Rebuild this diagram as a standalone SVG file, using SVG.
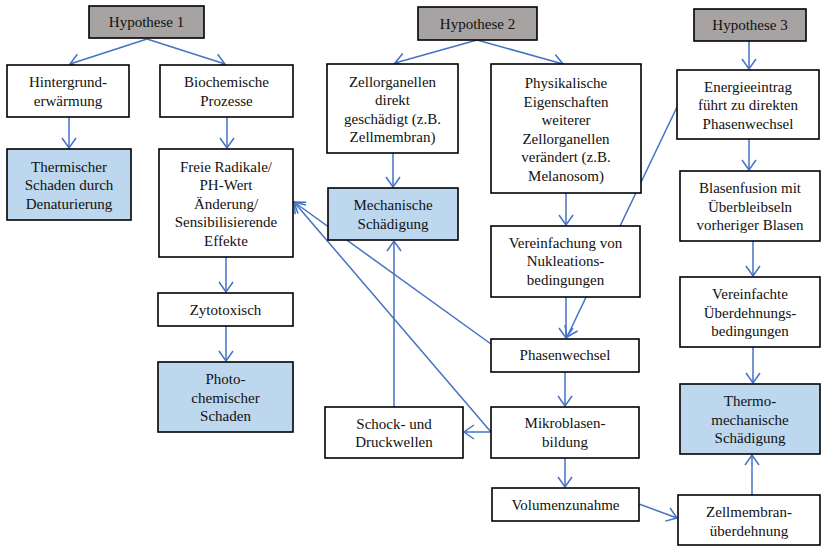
<svg xmlns="http://www.w3.org/2000/svg" width="821" height="546" viewBox="0 0 821 546">
<defs>
<marker id="ah" markerWidth="14" markerHeight="18" refX="12" refY="9" orient="auto" markerUnits="userSpaceOnUse" viewBox="0 0 14 18">
<path d="M2,2 L12,9 L2,16" fill="none" stroke="#4472c4" stroke-width="1.5"/>
</marker>
</defs>
<g id="connectors" stroke="#4472c4" stroke-width="1.5" fill="none" marker-end="url(#ah)">
<line x1="147" y1="39" x2="70" y2="64"/>
<line x1="147" y1="39" x2="225" y2="64"/>
<line x1="69" y1="117" x2="69" y2="148"/>
<line x1="227" y1="117" x2="227" y2="148"/>
<line x1="226" y1="257" x2="226" y2="292"/>
<line x1="226" y1="326" x2="226" y2="361"/>
<line x1="477" y1="40" x2="395" y2="63"/>
<line x1="477" y1="40" x2="563" y2="64"/>
<line x1="393" y1="153" x2="393" y2="187"/>
<line x1="566" y1="193" x2="566" y2="225"/>
<line x1="566" y1="297" x2="566" y2="338"/>
<line x1="677" y1="107" x2="567" y2="337"/>
<line x1="565" y1="372" x2="565" y2="406"/>
<line x1="565" y1="458" x2="565" y2="487"/>
<line x1="639" y1="504" x2="677" y2="518"/>
<line x1="752" y1="495" x2="752" y2="455"/>
<line x1="491" y1="432" x2="464" y2="432"/>
<line x1="394" y1="407" x2="394" y2="241"/>
<line x1="491" y1="432" x2="294" y2="202"/>
<line x1="491" y1="344" x2="294" y2="202"/>
<line x1="749" y1="41" x2="749" y2="69"/>
<line x1="749" y1="139" x2="749" y2="170"/>
<line x1="753" y1="241" x2="753" y2="276"/>
<line x1="753" y1="347" x2="753" y2="383"/>
</g>
<g font-size="15" fill="#111" text-anchor="middle">
<g id="hyp1"><rect fill="#a7a3a3" stroke="#000" stroke-width="1.6" x="89" y="6" width="115" height="32"/><text font-family="Liberation Serif" x="146.5" y="27">Hypothese 1</text></g>
<g id="hyp2"><rect fill="#a7a3a3" stroke="#000" stroke-width="1.6" x="418" y="7" width="119" height="33"/><text font-family="Liberation Serif" x="477.5" y="28.5">Hypothese 2</text></g>
<g id="hyp3"><rect fill="#a7a3a3" stroke="#000" stroke-width="1.6" x="694" y="9" width="112" height="32"/><text font-family="Liberation Serif" x="750" y="30">Hypothese 3</text></g>
<g id="hintergrund"><rect fill="#fff" stroke="#000" stroke-width="1.6" x="7" y="65" width="122" height="52"/><text font-family="Liberation Serif" x="68" y="87">Hintergrund-</text><text font-family="Liberation Serif" x="68" y="105.5">erwärmung</text></g>
<g id="biochem"><rect fill="#fff" stroke="#000" stroke-width="1.6" x="160" y="65" width="133" height="52"/><text font-family="Liberation Serif" x="226.5" y="87">Biochemische</text><text font-family="Liberation Serif" x="226.5" y="105.5">Prozesse</text></g>
<g id="thermisch"><rect fill="#bdd7ee" stroke="#000" stroke-width="1.6" x="7" y="149" width="124" height="71"/><text font-family="Liberation Serif" x="69" y="171.5">Thermischer</text><text font-family="Liberation Serif" x="69" y="190">Schaden durch</text><text font-family="Liberation Serif" x="69" y="208.5">Denaturierung</text></g>
<g id="freie"><rect fill="#fff" stroke="#000" stroke-width="1.6" x="159" y="149" width="134" height="108"/><text font-family="Liberation Serif" x="226" y="171.5">Freie Radikale/</text><text font-family="Liberation Serif" x="226" y="190">PH-Wert</text><text font-family="Liberation Serif" x="226" y="208.5">Änderung/</text><text font-family="Liberation Serif" x="226" y="227">Sensibilisierende</text><text font-family="Liberation Serif" x="226" y="245.5">Effekte</text></g>
<g id="zyto"><rect fill="#fff" stroke="#000" stroke-width="1.6" x="158" y="293" width="135" height="33"/><text font-family="Liberation Serif" x="225.5" y="315">Zytotoxisch</text></g>
<g id="photo"><rect fill="#bdd7ee" stroke="#000" stroke-width="1.6" x="158" y="362" width="135" height="70"/><text font-family="Liberation Serif" x="225.5" y="384">Photo-</text><text font-family="Liberation Serif" x="225.5" y="402.5">chemischer</text><text font-family="Liberation Serif" x="225.5" y="421">Schaden</text></g>
<g id="zellorg"><rect fill="#fff" stroke="#000" stroke-width="1.6" x="327" y="64" width="131" height="89"/><text font-family="Liberation Serif" x="392.5" y="86.5">Zellorganellen</text><text font-family="Liberation Serif" x="392.5" y="105">direkt</text><text font-family="Liberation Serif" x="392.5" y="123.5">geschädigt (z.B.</text><text font-family="Liberation Serif" x="392.5" y="142">Zellmembran)</text></g>
<g id="physik"><rect fill="#fff" stroke="#000" stroke-width="1.6" x="491" y="64" width="150" height="129"/><text font-family="Liberation Serif" x="566" y="88">Physikalische</text><text font-family="Liberation Serif" x="566" y="106.5">Eigenschaften</text><text font-family="Liberation Serif" x="566" y="125">weiterer</text><text font-family="Liberation Serif" x="566" y="143.5">Zellorganellen</text><text font-family="Liberation Serif" x="566" y="162">verändert (z.B.</text><text font-family="Liberation Serif" x="566" y="180.5">Melanosom)</text></g>
<g id="mech"><rect fill="#bdd7ee" stroke="#000" stroke-width="1.6" x="328" y="188" width="130" height="52"/><text font-family="Liberation Serif" x="393" y="210">Mechanische</text><text font-family="Liberation Serif" x="393" y="228.5">Schädigung</text></g>
<g id="verein"><rect fill="#fff" stroke="#000" stroke-width="1.6" x="491" y="226" width="149" height="71"/><text font-family="Liberation Serif" x="565.5" y="247.5">Vereinfachung von</text><text font-family="Liberation Serif" x="565.5" y="266">Nukleations-</text><text font-family="Liberation Serif" x="565.5" y="284.5">bedingungen</text></g>
<g id="phasen"><rect fill="#fff" stroke="#000" stroke-width="1.6" x="491" y="339" width="148" height="33"/><text font-family="Liberation Serif" x="565" y="360">Phasenwechsel</text></g>
<g id="mikro"><rect fill="#fff" stroke="#000" stroke-width="1.6" x="491" y="407" width="148" height="51"/><text font-family="Liberation Serif" x="565" y="428">Mikroblasen-</text><text font-family="Liberation Serif" x="565" y="446.5">bildung</text></g>
<g id="schock"><rect fill="#fff" stroke="#000" stroke-width="1.6" x="325" y="407" width="138" height="51"/><text font-family="Liberation Serif" x="394" y="428.5">Schock- und</text><text font-family="Liberation Serif" x="394" y="447">Druckwellen</text></g>
<g id="volumen"><rect fill="#fff" stroke="#000" stroke-width="1.6" x="492" y="488" width="147" height="33"/><text font-family="Liberation Serif" x="565.5" y="510">Volumenzunahme</text></g>
<g id="energie"><rect fill="#fff" stroke="#000" stroke-width="1.6" x="677" y="70" width="142" height="69"/><text font-family="Liberation Serif" x="748" y="91.5">Energieeintrag</text><text font-family="Liberation Serif" x="748" y="110">führt zu direkten</text><text font-family="Liberation Serif" x="748" y="128.5">Phasenwechsel</text></g>
<g id="blasen"><rect fill="#fff" stroke="#000" stroke-width="1.6" x="680" y="171" width="140" height="70"/><text font-family="Liberation Serif" x="750" y="193">Blasenfusion mit</text><text font-family="Liberation Serif" x="750" y="211.5">Überbleibseln</text><text font-family="Liberation Serif" x="750" y="230">vorheriger Blasen</text></g>
<g id="vereinfachte"><rect fill="#fff" stroke="#000" stroke-width="1.6" x="680" y="277" width="140" height="70"/><text font-family="Liberation Serif" x="750" y="299">Vereinfachte</text><text font-family="Liberation Serif" x="750" y="317.5">Überdehnungs-</text><text font-family="Liberation Serif" x="750" y="336">bedingungen</text></g>
<g id="thermo"><rect fill="#bdd7ee" stroke="#000" stroke-width="1.6" x="680" y="384" width="140" height="70"/><text font-family="Liberation Serif" x="750" y="406">Thermo-</text><text font-family="Liberation Serif" x="750" y="424.5">mechanische</text><text font-family="Liberation Serif" x="750" y="443">Schädigung</text></g>
<g id="zellmembran"><rect fill="#fff" stroke="#000" stroke-width="1.6" x="678" y="495" width="142" height="50"/><text font-family="Liberation Serif" x="749" y="517">Zellmembran-</text><text font-family="Liberation Serif" x="749" y="535.5">überdehnung</text></g>
</g>
</svg>
